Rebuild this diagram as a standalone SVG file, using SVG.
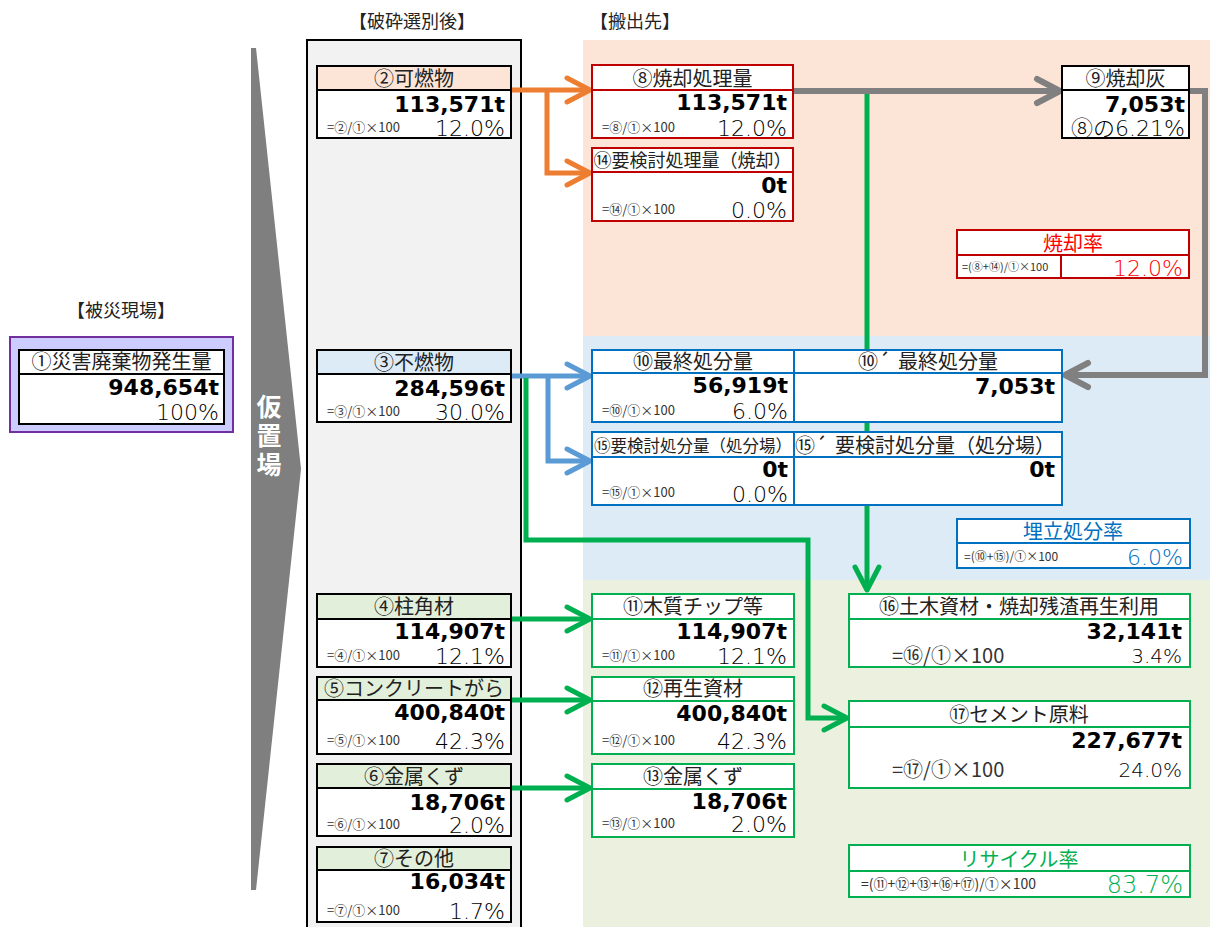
<svg xmlns="http://www.w3.org/2000/svg" width="1210" height="927" viewBox="0 0 1210 927">
<style>
.hd{font-family:"Noto Sans CJK JP",sans-serif;font-size:20px;text-anchor:middle;fill:#222}
.cap{font-family:"Noto Sans CJK JP",sans-serif;font-size:18px;text-anchor:middle;fill:#222}
.val{font-family:"DejaVu Sans","Noto Sans CJK JP",sans-serif;font-weight:bold;font-size:22px;text-anchor:end;fill:#000}
.pct{font-family:"DejaVu Sans","Noto Sans CJK JP",sans-serif;font-weight:200;font-size:22px;text-anchor:end;fill:#000}
.fm{font-family:"Noto Sans CJK JP",sans-serif;font-size:13px;fill:#333}
.box{fill:#fff;stroke-width:2}
.k{stroke:#000}.r{stroke:#C00000}.b{stroke:#0070C0}.g{stroke:#00B050}
.conn path{fill:none;stroke-linejoin:miter}
</style>
<defs>
<marker id="mo" markerUnits="userSpaceOnUse" viewBox="0 0 32 32" markerWidth="32" markerHeight="32" refX="29" refY="16" orient="auto"><path d="M6,4 L29,16 L6,28" fill="none" stroke="#ED7D31" stroke-width="5" stroke-linecap="round" stroke-linejoin="round"/></marker>
<marker id="mb" markerUnits="userSpaceOnUse" viewBox="0 0 32 32" markerWidth="32" markerHeight="32" refX="29" refY="16" orient="auto"><path d="M6,4 L29,16 L6,28" fill="none" stroke="#5B9BD5" stroke-width="5" stroke-linecap="round" stroke-linejoin="round"/></marker>
<marker id="mg" markerUnits="userSpaceOnUse" viewBox="0 0 32 32" markerWidth="32" markerHeight="32" refX="29" refY="16" orient="auto"><path d="M6,4 L29,16 L6,28" fill="none" stroke="#00B050" stroke-width="5" stroke-linecap="round" stroke-linejoin="round"/></marker>
<marker id="mk" markerUnits="userSpaceOnUse" viewBox="0 0 32 32" markerWidth="32" markerHeight="32" refX="29" refY="16" orient="auto"><path d="M6,4 L29,16 L6,28" fill="none" stroke="#808080" stroke-width="6" stroke-linecap="round" stroke-linejoin="round"/></marker>
</defs>
<rect width="1210" height="927" fill="#fff"/>
<!-- bands -->
<rect x="583" y="40" width="627" height="296" fill="#FCE4D6"/>
<rect x="583" y="336" width="627" height="244" fill="#DDEBF7"/>
<rect x="583" y="580" width="627" height="347" fill="#EBF1DE"/>
<rect x="307" y="40" width="214" height="900" fill="#F2F2F2" stroke="#000" stroke-width="2"/>
<!-- big arrow -->
<polygon points="251,48 256,48 301,469 256,890 251,890" fill="#7F7F7F"/>
<text x="269" y="394" font-family="Noto Sans CJK JP,sans-serif" font-size="25" font-weight="bold" fill="#fff" style="writing-mode:vertical-rl;letter-spacing:4px">仮置場</text>
<!-- captions -->
<text class="cap" x="121" y="317">【被災現場】</text>
<text class="cap" x="412" y="28">【破砕選別後】</text>
<text class="cap" x="635" y="28">【搬出先】</text>
<!-- connectors -->
<g class="conn">
<path d="M511,90 H590" stroke="#ED7D31" stroke-width="5" marker-end="url(#mo)"/>
<path d="M547,90 V173 H590" stroke="#ED7D31" stroke-width="5" marker-end="url(#mo)"/>
<path d="M511,376 H590" stroke="#5B9BD5" stroke-width="5" marker-end="url(#mb)"/>
<path d="M548,376 V461 H590" stroke="#5B9BD5" stroke-width="5" marker-end="url(#mb)"/>
<path d="M793,91 H1060" stroke="#808080" stroke-width="6" marker-end="url(#mk)"/>
<path d="M1189,91 H1205 V375 H1065" stroke="#808080" stroke-width="6" marker-end="url(#mk)"/>
<path d="M867,94 V590" stroke="#00B050" stroke-width="5" marker-end="url(#mg)"/>
<path d="M526,378 V540 H808 V718 H847" stroke="#00B050" stroke-width="5" marker-end="url(#mg)"/>
<path d="M511,619 H590" stroke="#00B050" stroke-width="5" marker-end="url(#mg)"/>
<path d="M511,700 H590" stroke="#00B050" stroke-width="5" marker-end="url(#mg)"/>
<path d="M511,788 H590" stroke="#00B050" stroke-width="5" marker-end="url(#mg)"/>
</g>
<!-- node 1 -->
<g id="n1">
<rect x="10" y="337" width="223" height="95" fill="#CCCCFF" stroke="#7030A0" stroke-width="2"/>
<rect x="19" y="350" width="205" height="74" class="box k"/>
<line x1="19" y1="374" x2="224" y2="374" stroke="#000" stroke-width="2"/>
<text class="hd" x="121.5" y="369">①災害廃棄物発生量</text>
<text class="val" x="219" y="395">948,654t</text>
<text class="pct" x="219" y="420">100%</text>
</g>
<!-- node 2 -->
<g id="n2">
<rect x="317" y="66" width="194" height="72" class="box k"/>
<rect x="317" y="66" width="194" height="24" fill="#FCE4D6" stroke="#000" stroke-width="2"/>
<text class="hd" x="414" y="86">②可燃物</text>
<text class="val" x="505" y="112">113,571t</text>
<text class="fm" x="327" y="132">=②/①×100</text>
<text class="pct" x="505" y="136">12.0%</text>
</g>
<!-- node 3 -->
<g id="n3">
<rect x="317" y="350" width="194" height="72" class="box k"/>
<rect x="317" y="350" width="194" height="24" fill="#DDEBF7" stroke="#000" stroke-width="2"/>
<text class="hd" x="414" y="370">③不燃物</text>
<text class="val" x="505" y="396">284,596t</text>
<text class="fm" x="327" y="416">=③/①×100</text>
<text class="pct" x="505" y="420">30.0%</text>
</g>
<!-- node 4 -->
<g id="n4">
<rect x="317" y="594" width="194" height="73" class="box k"/>
<rect x="317" y="594" width="194" height="25" fill="#E2EFDA" stroke="#000" stroke-width="2"/>
<text class="hd" x="414" y="614">④柱角材</text>
<text class="val" x="505" y="639">114,907t</text>
<text class="fm" x="327" y="660">=④/①×100</text>
<text class="pct" x="505" y="664">12.1%</text>
</g>
<!-- node 5 -->
<g id="n5">
<rect x="317" y="677" width="194" height="77" class="box k"/>
<rect x="317" y="677" width="194" height="23" fill="#E2EFDA" stroke="#000" stroke-width="2"/>
<text class="hd" x="414" y="696">⑤コンクリートがら</text>
<text class="val" x="505" y="720">400,840t</text>
<text class="fm" x="327" y="745">=⑤/①×100</text>
<text class="pct" x="505" y="749">42.3%</text>
</g>
<!-- node 6 -->
<g id="n6">
<rect x="317" y="764" width="194" height="72" class="box k"/>
<rect x="317" y="764" width="194" height="24" fill="#E2EFDA" stroke="#000" stroke-width="2"/>
<text class="hd" x="414" y="784">⑥金属くず</text>
<text class="val" x="505" y="810">18,706t</text>
<text class="fm" x="327" y="829">=⑥/①×100</text>
<text class="pct" x="505" y="833">2.0%</text>
</g>
<!-- node 7 -->
<g id="n7">
<rect x="317" y="847" width="194" height="75" class="box k"/>
<rect x="317" y="847" width="194" height="23" fill="#E2EFDA" stroke="#000" stroke-width="2"/>
<text class="hd" x="414" y="866">⑦その他</text>
<text class="val" x="505" y="889">16,034t</text>
<text class="fm" x="327" y="915">=⑦/①×100</text>
<text class="pct" x="505" y="919">1.7%</text>
</g>
<!-- node 8 -->
<g id="n8">
<rect x="592" y="65" width="201" height="73" class="box r"/>
<line x1="592" y1="90" x2="793" y2="90" stroke="#C00000" stroke-width="2"/>
<text class="hd" x="692.5" y="86">⑧焼却処理量</text>
<text class="val" x="787" y="110">113,571t</text>
<text class="fm" x="602" y="132">=⑧/①×100</text>
<text class="pct" x="787" y="136">12.0%</text>
</g>
<!-- node 14 -->
<g id="n14">
<rect x="592" y="148" width="201" height="73" class="box r"/>
<line x1="592" y1="172" x2="793" y2="172" stroke="#C00000" stroke-width="2"/>
<text class="hd" x="692.5" y="167" style="font-size:18px">⑭要検討処理量（焼却）</text>
<text class="val" x="787" y="193">0t</text>
<text class="fm" x="602" y="214">=⑭/①×100</text>
<text class="pct" x="787" y="218">0.0%</text>
</g>
<!-- node 9 -->
<g id="n9">
<rect x="1062" y="66" width="127" height="72" class="box k"/>
<line x1="1062" y1="90" x2="1189" y2="90" stroke="#000" stroke-width="2"/>
<text class="hd" x="1125.5" y="86">⑨焼却灰</text>
<text class="val" x="1185" y="112">7,053t</text>
<text class="pct" x="1185" y="136"><tspan font-family="Noto Sans CJK JP,sans-serif">⑧の</tspan>6.21%</text>
</g>
<!-- incineration rate -->
<g id="rate-incin">
<rect x="957" y="230" width="232" height="48" class="box r"/>
<line x1="957" y1="255" x2="1189" y2="255" stroke="#C00000" stroke-width="2"/>
<line x1="1061" y1="255" x2="1061" y2="278" stroke="#C00000" stroke-width="2"/>
<text class="hd" x="1073" y="251" style="fill:#FF0000">焼却率</text>
<text class="fm" x="962" y="271" style="font-size:11px">=(⑧+⑭)/①×100</text>
<text class="pct" x="1183" y="276" style="fill:#FF0000">12.0%</text>
</g>
<!-- node 10 -->
<g id="n10">
<rect x="592" y="350" width="202" height="72" class="box b"/>
<line x1="592" y1="373" x2="794" y2="373" stroke="#0070C0" stroke-width="2"/>
<text class="hd" x="693" y="369">⑩最終処分量</text>
<text class="val" x="788" y="393">56,919t</text>
<text class="fm" x="602" y="415">=⑩/①×100</text>
<text class="pct" x="788" y="419">6.0%</text>
</g>
<!-- node 10' -->
<g id="n10p">
<rect x="794" y="350" width="268" height="72" class="box b"/>
<line x1="794" y1="373" x2="1062" y2="373" stroke="#0070C0" stroke-width="2"/>
<text class="hd" x="928" y="369">⑩´<tspan dx="8">最終処分量</tspan></text>
<text class="val" x="1055" y="394">7,053t</text>
</g>
<!-- node 15 -->
<g id="n15">
<rect x="592" y="432" width="202" height="73" class="box b"/>
<line x1="592" y1="457" x2="794" y2="457" stroke="#0070C0" stroke-width="2"/>
<text class="hd" x="693" y="452" style="font-size:16.5px">⑮要検討処分量（処分場）</text>
<text class="val" x="788" y="477">0t</text>
<text class="fm" x="602" y="497">=⑮/①×100</text>
<text class="pct" x="788" y="502">0.0%</text>
</g>
<!-- node 15' -->
<g id="n15p">
<rect x="794" y="432" width="268" height="73" class="box b"/>
<line x1="794" y1="457" x2="1062" y2="457" stroke="#0070C0" stroke-width="2"/>
<text class="hd" x="925" y="453">⑮´<tspan dx="8">要検討処分量（処分場）</tspan></text>
<text class="val" x="1055" y="477">0t</text>
</g>
<!-- landfill rate -->
<g id="rate-landfill">
<rect x="957" y="519" width="233" height="49" class="box b"/>
<line x1="957" y1="543" x2="1190" y2="543" stroke="#0070C0" stroke-width="2"/>
<text class="hd" x="1073" y="539" style="fill:#0070C0">埋立処分率</text>
<text class="fm" x="964" y="561" style="font-size:12px">=(⑩+⑮)/①×100</text>
<text class="pct" x="1183" y="565" style="fill:#0070C0">6.0%</text>
</g>
<!-- node 11 -->
<g id="n11">
<rect x="592" y="594" width="202" height="73" class="box g"/>
<line x1="592" y1="619" x2="794" y2="619" stroke="#00B050" stroke-width="2"/>
<text class="hd" x="693" y="614">⑪木質チップ等</text>
<text class="val" x="787" y="639">114,907t</text>
<text class="fm" x="602" y="660">=⑪/①×100</text>
<text class="pct" x="787" y="664">12.1%</text>
</g>
<!-- node 12 -->
<g id="n12">
<rect x="592" y="677" width="202" height="77" class="box g"/>
<line x1="592" y1="701" x2="794" y2="701" stroke="#00B050" stroke-width="2"/>
<text class="hd" x="693" y="696">⑫再生資材</text>
<text class="val" x="787" y="721">400,840t</text>
<text class="fm" x="602" y="745">=⑫/①×100</text>
<text class="pct" x="787" y="749">42.3%</text>
</g>
<!-- node 13 -->
<g id="n13">
<rect x="592" y="764" width="202" height="73" class="box g"/>
<line x1="592" y1="789" x2="794" y2="789" stroke="#00B050" stroke-width="2"/>
<text class="hd" x="693" y="784">⑬金属くず</text>
<text class="val" x="787" y="809">18,706t</text>
<text class="fm" x="602" y="828">=⑬/①×100</text>
<text class="pct" x="787" y="832">2.0%</text>
</g>
<!-- node 16 -->
<g id="n16">
<rect x="849" y="594" width="341" height="73" class="box g"/>
<line x1="849" y1="619" x2="1190" y2="619" stroke="#00B050" stroke-width="2"/>
<text class="hd" x="1019" y="614">⑯土木資材・焼却残渣再生利用</text>
<text class="val" x="1182" y="639">32,141t</text>
<text class="fm" x="892" y="663" style="font-size:20px">=⑯/①×100</text>
<text class="pct" x="1182" y="663" style="font-size:20px">3.4%</text>
</g>
<!-- node 17 -->
<g id="n17">
<rect x="849" y="701" width="341" height="87" class="box g"/>
<line x1="849" y1="727" x2="1190" y2="727" stroke="#00B050" stroke-width="2"/>
<text class="hd" x="1019" y="722">⑰セメント原料</text>
<text class="val" x="1182" y="748">227,677t</text>
<text class="fm" x="892" y="777" style="font-size:20px">=⑰/①×100</text>
<text class="pct" x="1182" y="777" style="font-size:20px">24.0%</text>
</g>
<!-- recycle rate -->
<g id="rate-recycle">
<rect x="849" y="845" width="341" height="52" class="box g"/>
<line x1="849" y1="871" x2="1190" y2="871" stroke="#00B050" stroke-width="2"/>
<text class="hd" x="1019" y="867" style="fill:#00B050">リサイクル率</text>
<text class="fm" x="861" y="889" style="font-size:14px">=(⑪+⑫+⑬+⑯+⑰)/①×100</text>
<text class="pct" x="1183" y="893" style="fill:#00B050;font-size:24px">83.7%</text>
</g>
</svg>
